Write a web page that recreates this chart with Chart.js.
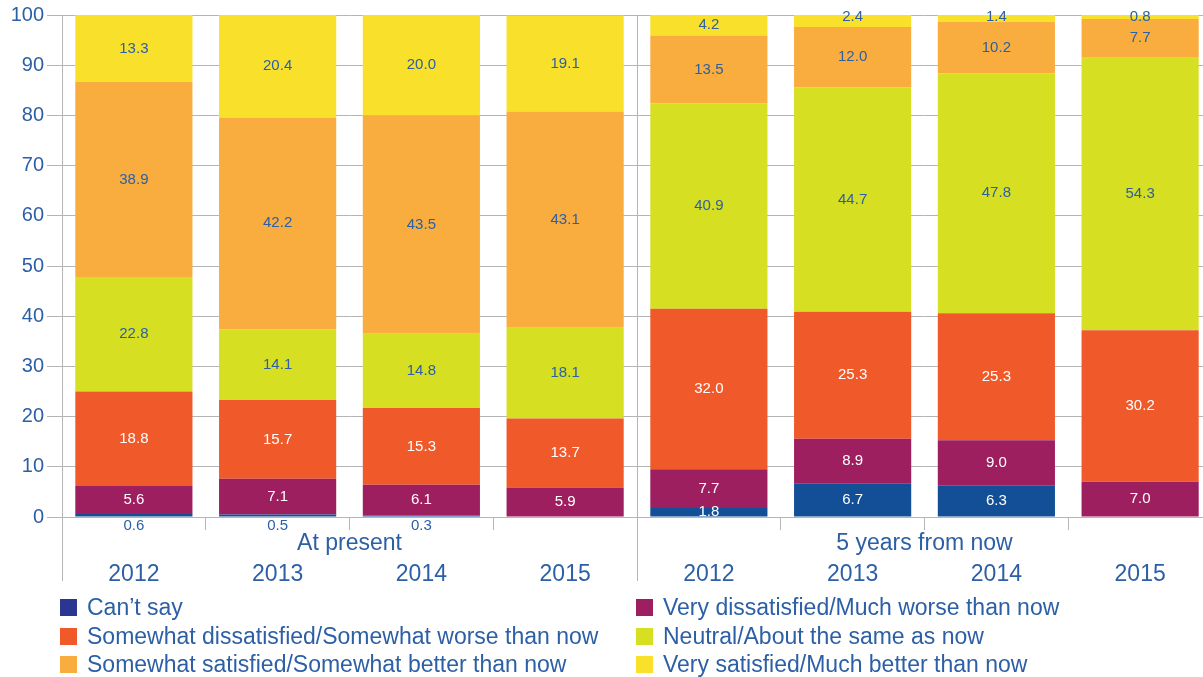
<!DOCTYPE html>
<html>
<head>
<meta charset="utf-8">
<script src="https://cdn.jsdelivr.net/npm/chart.js@4"></script>
<style>
  html, body { margin: 0; padding: 0; background: #fff; overflow: hidden; }
  #wrap { position: relative; width: 1212px; height: 677px; }
</style>
</head>
<body>
<div id="wrap"><canvas id="chart" width="1212" height="677"></canvas></div>
<script>
const categories = ['2012', '2013', '2014', '2015', '2012', '2013', '2014', '2015'];
const groups = ['At present', '5 years from now'];

const seriesNames = [
    'Can\u2019t say',
    'Very dissatisfied/Much worse than now',
    'Somewhat dissatisfied/Somewhat worse than now',
    'Neutral/About the same as now',
    'Somewhat satisfied/Somewhat better than now',
    'Very satisfied/Much better than now'
];
const cantSay = [0.6, 0.5, 0.3, 0, 1.8, 6.7, 6.3, 0];
const veryDissatisfied = [5.6, 7.1, 6.1, 5.9, 7.7, 8.9, 9.0, 7.0];
const somewhatDissatisfied = [18.8, 15.7, 15.3, 13.7, 32.0, 25.3, 25.3, 30.2];
const neutral = [22.8, 14.1, 14.8, 18.1, 40.9, 44.7, 47.8, 54.3];
const somewhatSatisfied = [38.9, 42.2, 43.5, 43.1, 13.5, 12.0, 10.2, 7.7];
const verySatisfied = [13.3, 20.4, 20.0, 19.1, 4.2, 2.4, 1.4, 0.8];

const colors = ['#124f96', '#9e1f5f', '#f0592a', '#d6df21', '#f9ad3f', '#f8e02b'];
const legendColors = ['#2b3690', '#9e1f5f', '#f0592a', '#d6df21', '#f9ad3f', '#f8e02b'];
const labelColors = ['#ffffff', '#ffffff', '#ffffff', '#2c5fa5', '#2c5fa5', '#2c5fa5'];
const BLUE = '#2c5fa5';
const GRID = '#b5b5b5';
const FONT = '"Liberation Sans", Arial, sans-serif';

const allSeries = [cantSay, veryDissatisfied, somewhatDissatisfied, neutral, somewhatSatisfied, verySatisfied];

// value labels inside the stacked segments
const segmentLabels = {
    id: 'segmentLabels',
    afterDatasetsDraw(chart) {
        const ctx = chart.ctx;
        ctx.save();
        ctx.font = '15px ' + FONT;
        ctx.textAlign = 'center';
        ctx.textBaseline = 'middle';
        chart.data.datasets.forEach((ds, di) => {
            const meta = chart.getDatasetMeta(di);
            meta.data.forEach((bar, i) => {
                const v = ds.data[i];
                if (!v) return;
                let y = (bar.y + bar.base) / 2;
                let color = labelColors[di];
                if (di === 0 && v < 1) {
                    // tiny "can't say" values sit under the baseline
                    y = bar.base + 9;
                    color = BLUE;
                }
                if (di === 5 && v < 3) y = Math.min(y, bar.y + 2);
                ctx.fillStyle = color;
                ctx.fillText(v.toFixed(1), bar.x, y);
            });
        });
        ctx.restore();
    }
};

// group labels, long separators and the legend
const extras = {
    id: 'extras',
    afterDraw(chart) {
        const ctx = chart.ctx;
        const x = chart.scales.x;
        const area = chart.chartArea;
        const step = x.getPixelForValue(1) - x.getPixelForValue(0);
        ctx.save();
        ctx.strokeStyle = GRID;
        ctx.lineWidth = 1;
        [area.left, area.left + step * 4].forEach(px => {
            ctx.beginPath();
            ctx.moveTo(Math.round(px) + 0.5, area.top);
            ctx.lineTo(Math.round(px) + 0.5, 581);
            ctx.stroke();
        });

        ctx.fillStyle = BLUE;
        ctx.font = '23px ' + FONT;
        ctx.textAlign = 'center';
        ctx.textBaseline = 'middle';
        groups.forEach((g, gi) => {
            const cx = area.left + step * (gi * 4 + 2);
            ctx.fillText(g, cx, 544);
        });

        // legend, two columns
        ctx.textAlign = 'left';
        const colX = [60, 636];
        const rowY = [608, 637, 665];
        seriesNames.forEach((name, i) => {
            const cx = colX[i % 2];
            const cy = rowY[Math.floor(i / 2)];
            ctx.fillStyle = legendColors[i];
            ctx.fillRect(cx, cy - 9, 17, 17);
            ctx.fillStyle = BLUE;
            ctx.fillText(name, cx + 27, cy + 1);
        });
        ctx.restore();
    }
};

Chart.defaults.font.family = FONT;
Chart.defaults.color = BLUE;

new Chart(document.getElementById('chart').getContext('2d'), {
    type: 'bar',
    data: {
        labels: categories,
        datasets: allSeries.map((data, i) => ({
            label: seriesNames[i],
            data: data,
            backgroundColor: colors[i],
            borderWidth: 0,
            barPercentage: 0.815,
            categoryPercentage: 1
        }))
    },
    options: {
        responsive: false,
        animation: false,
        layout: { padding: { top: 15, left: 0, right: 0, bottom: 0 } },
        plugins: {
            legend: { display: false },
            tooltip: { enabled: false }
        },
        scales: {
            x: {
                stacked: true,
                afterFit(scale) { scale.height = 160; },
                grid: {
                    offset: true,
                    drawOnChartArea: false,
                    drawTicks: true,
                    tickLength: 13,
                    color: GRID
                },
                border: { display: true, color: GRID },
                ticks: {
                    autoSkip: false,
                    maxRotation: 0,
                    padding: 31,
                    color: BLUE,
                    font: { size: 23 }
                }
            },
            y: {
                stacked: true,
                min: 0,
                max: 100,
                afterFit(scale) { scale.width = 62; },
                grid: {
                    color: GRID,
                    tickLength: 15
                },
                border: { display: true, color: GRID },
                ticks: {
                    stepSize: 10,
                    padding: 3,
                    color: BLUE,
                    font: { size: 20 }
                }
            }
        }
    },
    plugins: [segmentLabels, extras]
});
</script>
</body>
</html>
